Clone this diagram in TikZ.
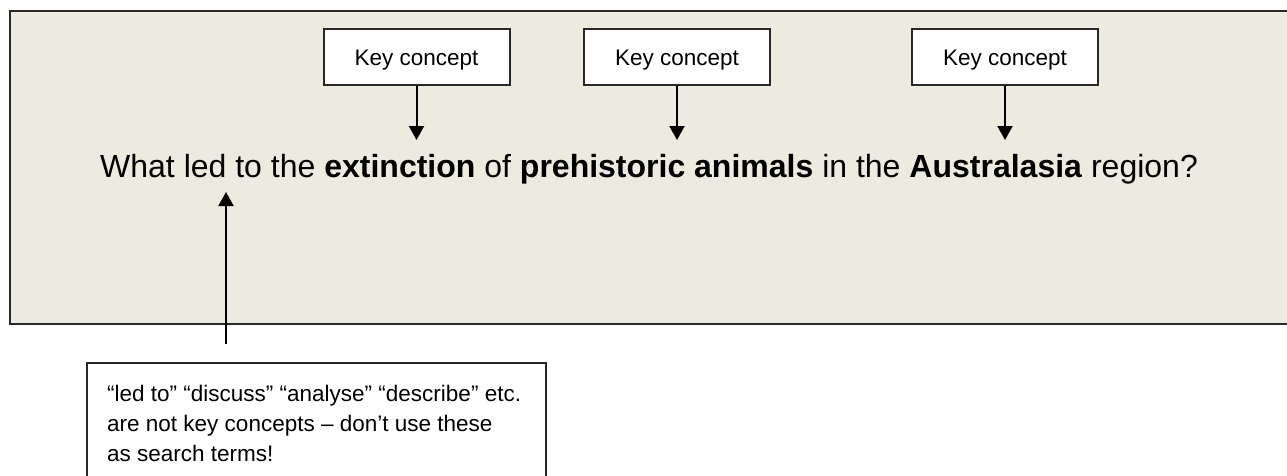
\documentclass[tikz,border=0pt]{standalone}
\usepackage{fontspec}
\setmainfont{Liberation Sans}
\usetikzlibrary{arrows.meta}
\definecolor{panel}{RGB}{237,234,224}
\definecolor{edge}{RGB}{40,40,40}
\begin{document}
\begin{tikzpicture}[x=1pt,y=-1pt,
  keybox/.style={draw=edge,line width=2pt,fill=white,minimum width=186pt,minimum height=56pt,inner sep=0pt,text height=17pt,text depth=0pt,font=\fontsize{22.5}{27}\selectfont},
  arr/.style={line width=2pt,-{Triangle[width=15pt,length=14pt]}}]
\useasboundingbox (0,0) rectangle (1287,475);
\fill[white] (0,0) rectangle (1287,475);
% main panel
\draw[edge,line width=2pt,fill=panel] (10,11) rectangle (1300,324);
% key concept boxes
\node[keybox] (k1) at (416.5,57) {Key concept};
\node[keybox] (k2) at (677,57) {Key concept};
\node[keybox] (k3) at (1005,57) {Key concept};
\coordinate (t1) at (416.5,140);
\coordinate (t2) at (677,140);
\coordinate (t3) at (1005,140);
\draw[arr] (k1.south) -- (t1);
\draw[arr] (k2.south) -- (t2);
\draw[arr] (k3.south) -- (t3);
% question
\node[anchor=base west,inner sep=0pt,font=\fontsize{32}{38}\selectfont] (q) at (100,177)
  {What led to the \textbf{extinction} of \textbf{prehistoric animals} in the \textbf{Australasia} region?};
% note box
\node[draw=edge,line width=2pt,fill=white,anchor=north west,minimum width=459pt,minimum height=150pt,inner sep=0pt] (note) at (86,362) {};
\node[anchor=base west,inner sep=0pt,align=left,font=\fontsize{22.5}{30}\selectfont] (nt) at (107,461)
  {“led to” “discuss” “analyse” “describe” etc.\\are not key concepts – don’t use these\\as search terms!};
\coordinate (u1) at (226,344);
\coordinate (u2) at (226,192);
\draw[arr] (u1) -- (u2);
\end{tikzpicture}
\end{document}
